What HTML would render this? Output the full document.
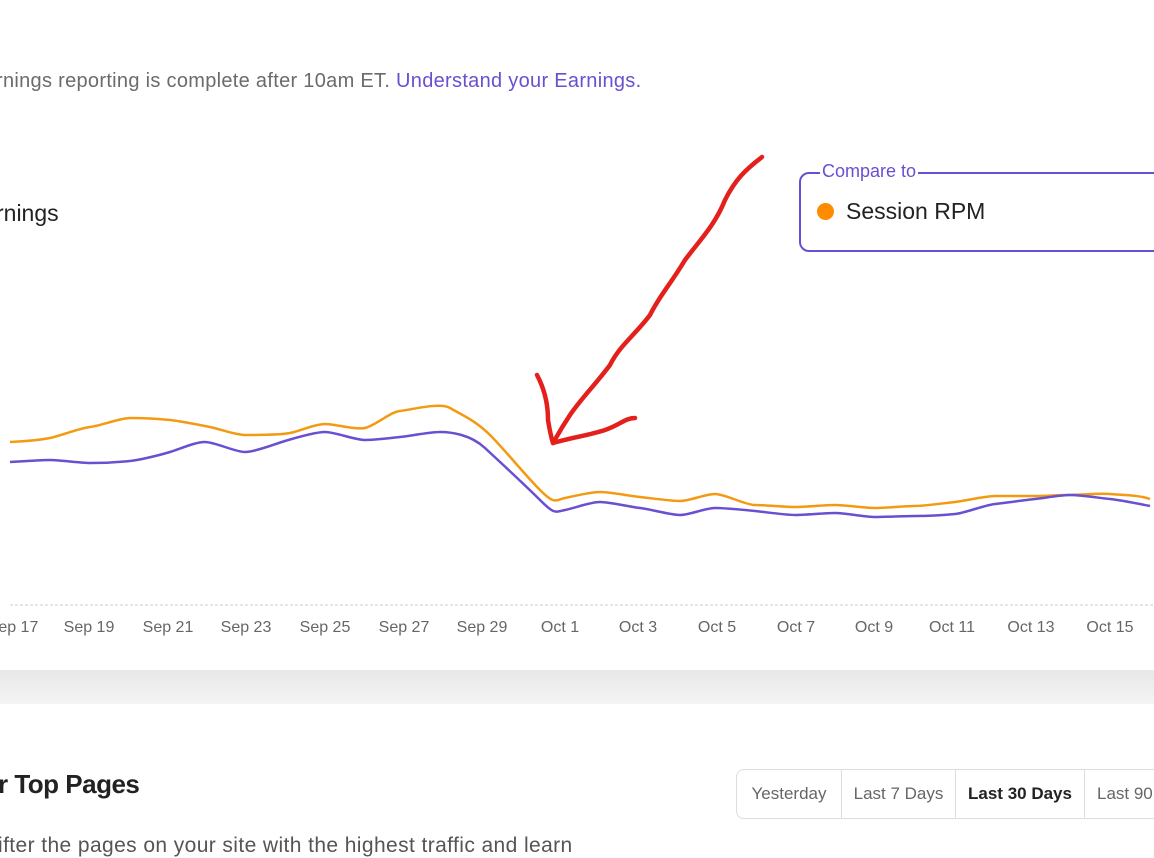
<!DOCTYPE html>
<html><head><style>
body{margin:0;width:1154px;height:846px;overflow:hidden;background:#fff;font-family:"Liberation Sans",sans-serif;position:relative}
.t{position:absolute;white-space:nowrap}
</style></head><body>
<div class="t" style="left:-4px;top:70px;font-size:20px;letter-spacing:0.3px;color:#6b6b6b">rnings reporting is complete after 10am ET. <span style="color:#6a4fd0">Understand your Earnings.</span></div>
<div class="t" style="left:-4px;top:200px;font-size:23px;color:#222">rnings</div>
<div style="position:absolute;left:799px;top:172px;width:370px;height:80px;border:2px solid #6a4fd0;border-radius:10px;box-sizing:border-box"></div>
<div class="t" style="left:820px;top:161px;font-size:18px;color:#6a4fd0;background:#fff;padding:0 2px">Compare to</div>
<div style="position:absolute;left:817px;top:203px;width:17px;height:17px;border-radius:50%;background:#ff8c00"></div>
<div class="t" style="left:846px;top:198px;font-size:23px;color:#222">Session RPM</div>
<svg width="1154" height="846" style="position:absolute;left:0;top:0">
<line x1="10" y1="605" x2="1154" y2="605" stroke="#ccc" stroke-dasharray="3,2"/>
<path fill="none" stroke="#f39a12" stroke-width="2.5" d="M10,442 C30,441 40,440 50,438 S80,428 90,427 S120,418 130,418 S160,419 170,420 S200,425 210,427 S235,435 245,435 S280,435 290,433 S315,424 325,424 S355,430 365,428 S390,412 400,411 S440,402 450,408 S475,420 490,435 S525,475 540,490 S555,500 565,498 S590,492 600,492 S630,496 640,497 S670,501 680,501 S705,494 715,494 S745,505 755,505 S785,507 795,507 S825,505 835,505 S865,508 875,508 S905,506 915,506 S945,503 955,502 S985,496 995,496 S1025,496 1035,496 S1060,495 1070,495 S1100,493 1110,494 S1140,495 1150,499"/>
<path fill="none" stroke="#6a4fd0" stroke-width="2.5" d="M10,462 C30,461 40,460 50,460 S80,463 90,463 S120,462 130,461 S160,455 170,452 S195,442 205,442 S235,452 245,452 S275,444 285,441 S315,432 325,432 S355,440 365,440 S390,438 400,437 S430,432 440,432 S470,434 485,448 S525,485 540,500 S555,512 565,510 S590,502 600,502 S630,507 640,508 S670,515 680,515 S705,508 715,508 S745,510 755,511 S785,515 795,515 S825,513 835,513 S865,517 875,517 S905,516 915,516 S945,515 955,514 S985,505 995,504 S1025,500 1035,499 S1060,495 1070,495 S1100,498 1110,499 S1140,504 1150,506"/>
<g font-size="16" fill="#666" text-anchor="middle" font-family="Liberation Sans,sans-serif">
<text x="13" y="632">Sep 17</text><text x="89" y="632">Sep 19</text><text x="168" y="632">Sep 21</text><text x="246" y="632">Sep 23</text><text x="325" y="632">Sep 25</text><text x="404" y="632">Sep 27</text><text x="482" y="632">Sep 29</text><text x="560" y="632">Oct 1</text><text x="638" y="632">Oct 3</text><text x="717" y="632">Oct 5</text><text x="796" y="632">Oct 7</text><text x="874" y="632">Oct 9</text><text x="952" y="632">Oct 11</text><text x="1031" y="632">Oct 13</text><text x="1110" y="632">Oct 15</text>
</g>
<g fill="none" stroke="#e3201b" stroke-width="4.5" stroke-linecap="round" stroke-linejoin="round">
<path d="M762,157 C745,170 735,180 725,200 C715,225 700,240 685,260 C670,285 660,295 650,315 C635,335 620,345 610,365 C595,385 580,400 570,415 C560,430 556,438 553,443"/>
<path d="M537,375 C545,390 548,405 548,420 C550,432 552,440 553,443"/>
<path d="M553,443 C570,438 590,435 605,430 C620,425 625,418 635,418"/>
</g>
</svg>
<div style="position:absolute;left:0;top:670px;width:1154px;height:34px;background:linear-gradient(#e8e8e8,#f4f4f4)"></div>
<div class="t" style="left:-2px;top:769px;font-size:26px;font-weight:bold;letter-spacing:-0.5px;color:#222">r Top Pages</div>
<div style="position:absolute;left:736px;top:769px;width:440px;height:50px;border:1px solid #ddd;border-radius:8px;box-sizing:border-box;display:flex;font-size:17px;color:#666">
<div style="width:104px;border-right:1px solid #ddd;line-height:48px;text-align:center">Yesterday</div>
<div style="width:113px;border-right:1px solid #ddd;line-height:48px;text-align:center">Last 7 Days</div>
<div style="width:128px;border-right:1px solid #ddd;line-height:48px;text-align:center;color:#222;font-weight:bold">Last 30 Days</div>
<div style="line-height:48px;padding-left:12px">Last 90</div>
</div>
<div class="t" style="left:-2px;top:834px;font-size:21px;letter-spacing:0.4px;color:#555">ifter the pages on your site with the highest traffic and learn</div>
</body></html>
